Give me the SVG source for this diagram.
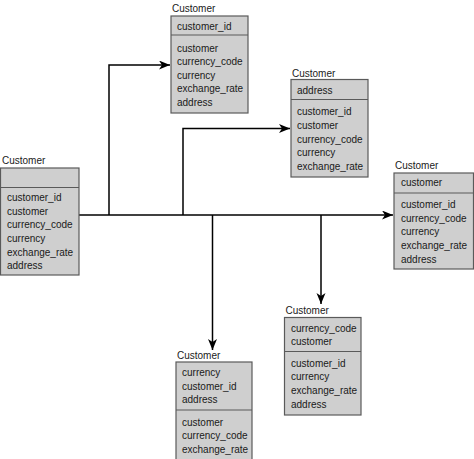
<svg xmlns="http://www.w3.org/2000/svg" width="474" height="459" viewBox="0 0 474 459">
<style>
.box{fill:#cfcfcf;stroke:#5a5a5a;stroke-width:1.2}
.div{stroke:#5a5a5a;stroke-width:1.2}
text{font-family:"Liberation Sans",Arial,sans-serif;font-size:10px;fill:#1a1a1a}
.con{fill:none;stroke:#000;stroke-width:1.5}
</style>
<defs>
<marker id="ah" markerUnits="userSpaceOnUse" markerWidth="12" markerHeight="10" refX="11" refY="4.5" orient="auto">
<path d="M0,0 L11,4.5 L0,9 L3,4.5 z" fill="#000"/>
</marker>
</defs>
<rect width="474" height="459" fill="#fff"/>
<g id="connectors">
<path class="con" d="M79,215 H393" marker-end="url(#ah)"/>
<path class="con" d="M109,215 V65 H170" marker-end="url(#ah)"/>
<path class="con" d="M183,215 V128.5 H290" marker-end="url(#ah)"/>
<path class="con" d="M212.5,215 V350" marker-end="url(#ah)"/>
<path class="con" d="M321,215 V304" marker-end="url(#ah)"/>
</g>
<g id="node-source">
<text x="2" y="164">Customer</text>
<rect class="box" x="0.5" y="168" width="78.5" height="107"/>
<line class="div" x1="0.5" y1="187.5" x2="79" y2="187.5"/>
<text x="7" y="201.2">customer_id</text>
<text x="7" y="214.8">customer</text>
<text x="7" y="228.4">currency_code</text>
<text x="7" y="242">currency</text>
<text x="7" y="255.6">exchange_rate</text>
<text x="7" y="269.2">address</text>
</g>
<g id="node-1">
<text x="172" y="12">Customer</text>
<rect class="box" x="171" y="16" width="77" height="97"/>
<line class="div" x1="171" y1="35" x2="248" y2="35"/>
<text x="177" y="29.5">customer_id</text>
<text x="177" y="51.5">customer</text>
<text x="177" y="65.1">currency_code</text>
<text x="177" y="78.7">currency</text>
<text x="177" y="92.3">exchange_rate</text>
<text x="177" y="105.9">address</text>
</g>
<g id="node-2">
<text x="292" y="76.5">Customer</text>
<rect class="box" x="291" y="79.5" width="77" height="97.5"/>
<line class="div" x1="291" y1="99.5" x2="368" y2="99.5"/>
<text x="297" y="93.5">address</text>
<text x="297" y="115.2">customer_id</text>
<text x="297" y="128.9">customer</text>
<text x="297" y="142.6">currency_code</text>
<text x="297" y="156.3">currency</text>
<text x="297" y="170">exchange_rate</text>
</g>
<g id="node-3">
<text x="395" y="169">Customer</text>
<rect class="box" x="394" y="173" width="79.5" height="96"/>
<line class="div" x1="394" y1="193" x2="473.5" y2="193"/>
<text x="401" y="186.2">customer</text>
<text x="401" y="207.8">customer_id</text>
<text x="401" y="221.5">currency_code</text>
<text x="401" y="235.2">currency</text>
<text x="401" y="248.9">exchange_rate</text>
<text x="401" y="262.6">address</text>
</g>
<g id="node-4">
<text x="177" y="358.5">Customer</text>
<rect class="box" x="176" y="362" width="76" height="100"/>
<line class="div" x1="176" y1="410" x2="252" y2="410"/>
<text x="182" y="376.2">currency</text>
<text x="182" y="389.8">customer_id</text>
<text x="182" y="403.4">address</text>
<text x="182" y="425.5">customer</text>
<text x="182" y="439">currency_code</text>
<text x="182" y="452.6">exchange_rate</text>
</g>
<g id="node-5">
<text x="285.5" y="314">Customer</text>
<rect class="box" x="284.5" y="317.5" width="76.5" height="97.5"/>
<line class="div" x1="284.5" y1="351.5" x2="361" y2="351.5"/>
<text x="291" y="331.8">currency_code</text>
<text x="291" y="345.2">customer</text>
<text x="291" y="366.8">customer_id</text>
<text x="291" y="380.4">currency</text>
<text x="291" y="394">exchange_rate</text>
<text x="291" y="407.6">address</text>
</g>
</svg>
